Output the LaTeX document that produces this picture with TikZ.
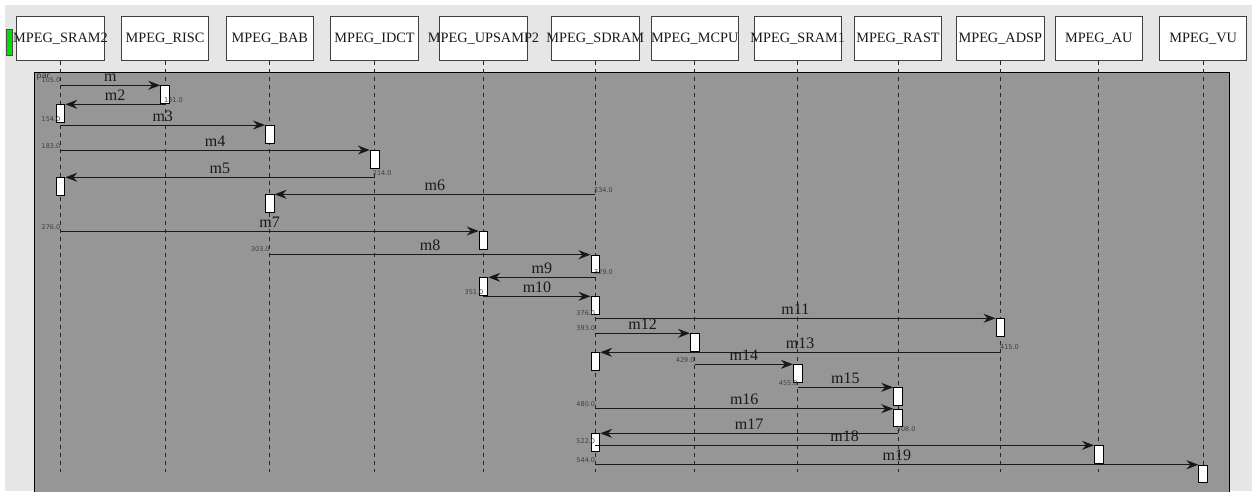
\documentclass[tikz,border=0pt]{standalone}
\usepackage{fontspec}
\setmainfont{Liberation Serif}
\newfontfamily\numfont{DejaVu Sans}
\usetikzlibrary{arrows.meta}
\definecolor{bgl}{HTML}{E6E6E6}
\definecolor{frm}{HTML}{969696}
\definecolor{grn}{HTML}{00DD00}
\begin{document}
\begin{tikzpicture}[x=1pt,y=-1pt,
  headbox/.style={draw=black!75, fill=white, line width=1pt, minimum width=87.4pt, minimum height=44pt, inner sep=0pt, font=\fontsize{14.3}{16}\selectfont, text=black!90},
  act/.style={draw=black, fill=white, line width=0.9pt, minimum width=8.7pt, minimum height=17.5pt, inner sep=0pt, anchor=north},
  life/.style={draw=black!85, line width=0.9pt, dash pattern=on 4pt off 4pt},
  msg/.style={draw=black!90, line width=1pt, -{Stealth[length=12pt,width=9pt,inset=4pt]}},
  mlab/.style={font=\fontsize{16}{18}\selectfont, anchor=base, inner sep=0pt, yshift=4pt, text=black!90},
  num/.style={font=\numfont\fontsize{6.5}{7}\selectfont, text=black!75, inner sep=0pt}]
\useasboundingbox (0,0) rectangle (1252,491);
\fill[white] (0,0) rectangle (1252,491);
\fill[bgl] (5,5) rectangle (1252,491);
\begin{scope}
\clip (0,0) rectangle (1252,491);
\filldraw[fill=frm, draw=black, line width=1pt] (34.3,72) rectangle (1229,500);
\end{scope}
\filldraw[fill=grn, draw=black!70, line width=0.8pt] (6.7,29.3) rectangle (12.7,55.7);
\node[font=\numfont\fontsize{8}{9}\selectfont, anchor=west, inner sep=0pt, text=black!80] (par) at (36.5,77.5) {par};
% heads
\node[headbox] (SRAM2) at (60.5,38.3) {\makebox[0pt]{MPEG\_SRAM2}};
\node[headbox] (RISC) at (165,38.3) {\makebox[0pt]{MPEG\_RISC}};
\node[headbox] (BAB) at (269.8,38.3) {\makebox[0pt]{MPEG\_BAB}};
\node[headbox] (IDCT) at (374.6,38.3) {\makebox[0pt]{MPEG\_IDCT}};
\node[headbox] (UPSAMP2) at (483.5,38.3) {\makebox[0pt]{MPEG\_UPSAMP2}};
\node[headbox] (SDRAM) at (595.3,38.3) {\makebox[0pt]{MPEG\_SDRAM}};
\node[headbox] (MCPU) at (694.7,38.3) {\makebox[0pt]{MPEG\_MCPU}};
\node[headbox] (SRAM1) at (797.7,38.3) {\makebox[0pt]{MPEG\_SRAM1}};
\node[headbox] (RAST) at (898,38.3) {\makebox[0pt]{MPEG\_RAST}};
\node[headbox] (ADSP) at (1000.3,38.3) {\makebox[0pt]{MPEG\_ADSP}};
\node[headbox] (AU) at (1098.8,38.3) {\makebox[0pt]{MPEG\_AU}};
\node[headbox] (VU) at (1203.2,38.3) {\makebox[0pt]{MPEG\_VU}};
\coordinate (bot) at (0,472);
\foreach \n in {SRAM2,RISC,BAB,IDCT,UPSAMP2,SDRAM,MCPU,SRAM1,RAST,ADSP,AU,VU}
  \draw[life] (\n.south) -- (\n.south |- bot);
% activation boxes
\node[act] (b1) at (165,85.3) {};
\node[act] (b2) at (60.5,104.3) {};
\node[act] (b3) at (269.8,125) {};
\node[act] (b4) at (374.6,150) {};
\node[act] (b5) at (60.5,177.3) {};
\node[act] (b6) at (269.8,194.3) {};
\node[act] (b7) at (483.5,231) {};
\node[act] (b8) at (595.3,254.7) {};
\node[act] (b9) at (483.5,277.3) {};
\node[act] (b10) at (595.3,296.3) {};
\node[act] (b11) at (1000.3,318.3) {};
\node[act] (b12) at (694.7,333.3) {};
\node[act] (b13) at (595.3,352.3) {};
\node[act] (b14) at (797.7,364.3) {};
\node[act] (b15) at (898,387.3) {};
\node[act] (b16) at (898,408.7) {};
\node[act] (b17) at (595.3,433.3) {};
\node[act] (b18) at (1098.8,445.3) {};
\node[act] (b19) at (1203.2,464.7) {};
% messages
\draw[msg] (SRAM2 |- b1.north) -- (b1.north west) node[mlab,midway] {m};
\draw[msg] (RISC |- b2.north) -- (b2.north east) node[mlab,midway] {m2};
\draw[msg] (SRAM2 |- b3.north) -- (b3.north west) node[mlab,midway] {m3};
\draw[msg] (SRAM2 |- b4.north) -- (b4.north west) node[mlab,midway] {m4};
\draw[msg] (IDCT |- b5.north) -- (b5.north east) node[mlab,midway] {m5};
\draw[msg] (SDRAM |- b6.north) -- (b6.north east) node[mlab,midway] {m6};
\draw[msg] (SRAM2 |- b7.north) -- (b7.north west) node[mlab,midway] {m7};
\draw[msg] (BAB |- b8.north) -- (b8.north west) node[mlab,midway] {m8};
\draw[msg] (SDRAM |- b9.north) -- (b9.north east) node[mlab,midway] {m9};
\draw[msg] (UPSAMP2 |- b10.north) -- (b10.north west) node[mlab,midway] {m10};
\draw[msg] (SDRAM |- b11.north) -- (b11.north west) node[mlab,midway] {m11};
\draw[msg] (SDRAM |- b12.north) -- (b12.north west) node[mlab,midway] {m12};
\draw[msg] (ADSP |- b13.north) -- (b13.north east) node[mlab,midway] {m13};
\draw[msg] (MCPU |- b14.north) -- (b14.north west) node[mlab,midway] {m14};
\draw[msg] (SRAM1 |- b15.north) -- (b15.north west) node[mlab,midway] {m15};
\draw[msg] (SDRAM |- b16.north) -- (b16.north west) node[mlab,midway] {m16};
\draw[msg] (RAST |- b17.north) -- (b17.north east) node[mlab,midway] {m17};
\draw[msg] (SDRAM |- b18.north) -- (b18.north west) node[mlab,midway] {m18};
\draw[msg] (SDRAM |- b19.north) -- (b19.north west) node[mlab,midway] {m19};
% time labels
\node[num,anchor=east] (t0) at (60.5,80) {105.0};
\node[num,anchor=west] (t1) at (164,100) {131.0};
\node[num,anchor=east] (t2) at (60.5,119) {154.0};
\node[num,anchor=east] (t3) at (60.5,145.7) {183.0};
\node[num,anchor=west] (t4) at (372.7,172.7) {214.0};
\node[num,anchor=west] (t5) at (594,190) {234.0};
\node[num,anchor=east] (t6) at (60.5,226.7) {276.0};
\node[num,anchor=east] (t7) at (269.8,249.3) {303.0};
\node[num,anchor=west] (t8) at (594,272.3) {329.0};
\node[num,anchor=east] (t9) at (483.5,292) {351.0};
\node[num,anchor=east] (t10) at (595.3,313.3) {376.0};
\node[num,anchor=east] (t11) at (595.3,328.3) {393.0};
\node[num,anchor=west] (t12) at (1000,347.3) {415.0};
\node[num,anchor=east] (t13) at (694.7,360) {429.0};
\node[num,anchor=east] (t14) at (797.7,382.7) {455.0};
\node[num,anchor=east] (t15) at (595.3,404.3) {480.0};
\node[num,anchor=west] (t16) at (896.7,429) {508.0};
\node[num,anchor=east] (t17) at (595.3,441) {522.0};
\node[num,anchor=east] (t18) at (595.3,460.3) {544.0};
\end{tikzpicture}
\end{document}
